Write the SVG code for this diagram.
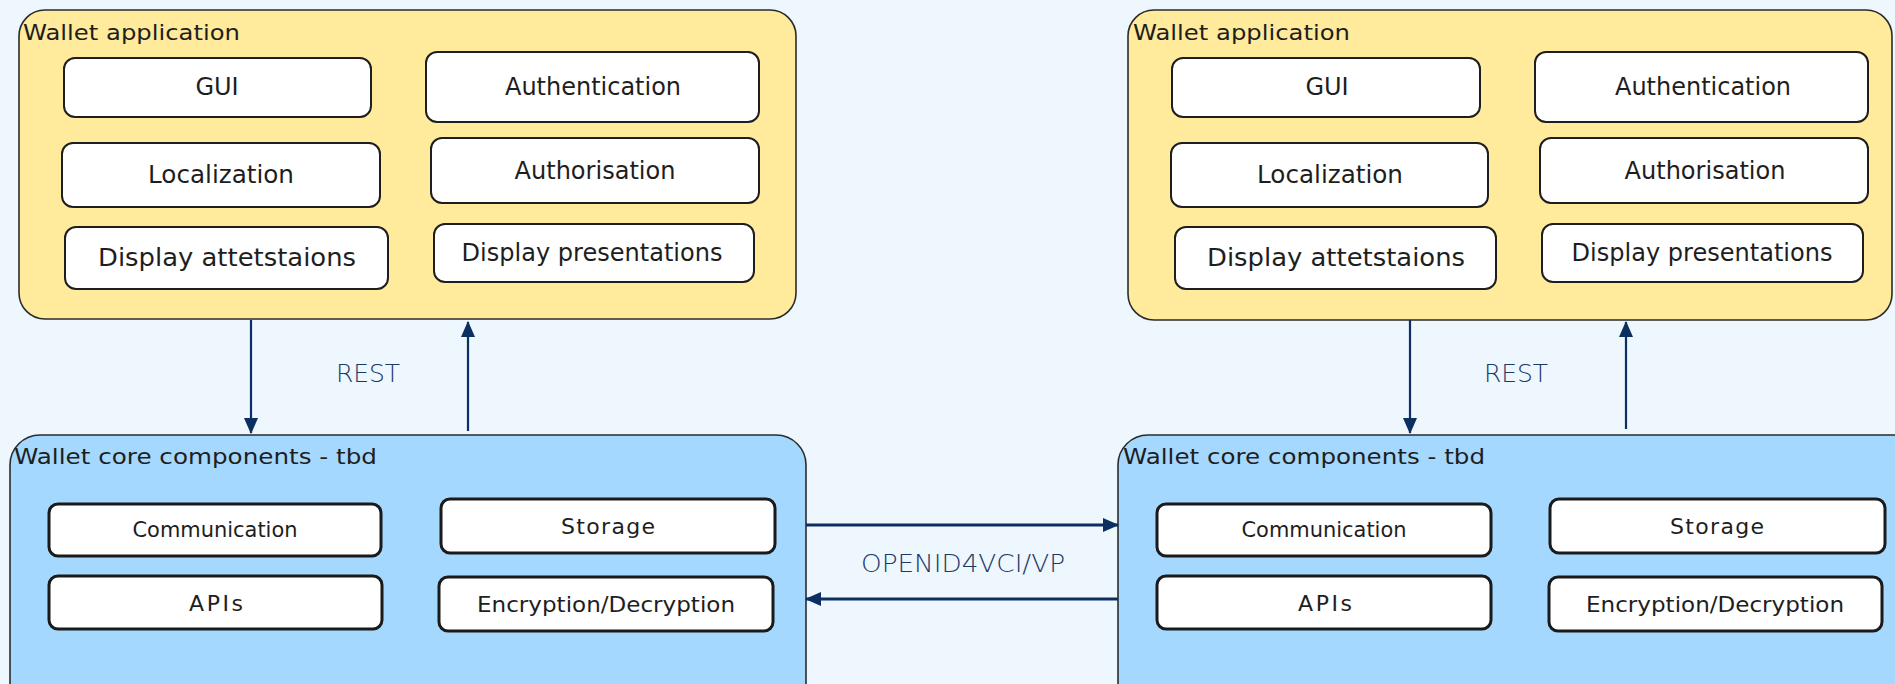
<svg xmlns="http://www.w3.org/2000/svg" width="1895" height="684" viewBox="0 0 1895 684">
  <style>
    .bg { fill: #eef6fe; }
    .app { fill: #ffeb9b; stroke: #2b2b2b; stroke-width: 1.6; }
    .core { fill: #a5d8ff; stroke: #2b2b2b; stroke-width: 1.6; }
    .item { fill: #ffffff; stroke: #1e1e1e; stroke-width: 2; }
    .item-b { fill: #ffffff; stroke: #1a1a1a; stroke-width: 3; }
    .title { font-family: "DejaVu Sans", "Liberation Sans", sans-serif; font-size: 22px; fill: #1e1e1e; }
    .lbl { font-family: "DejaVu Sans", "Liberation Sans", sans-serif; font-size: 24px; fill: #1e1e1e; text-anchor: middle; }
    .lbl-s { font-family: "DejaVu Sans", "Liberation Sans", sans-serif; font-size: 22px; fill: #1e1e1e; text-anchor: middle; }
    .edge { stroke: #0b2f60; fill: none; }
    .v { stroke-width: 2.2; }
    .h { stroke-width: 3; }
    .elbl { font-family: "DejaVu Sans", "Liberation Sans", sans-serif; font-weight: 300; fill: #1b3a66; text-anchor: middle; }
  </style>
  <defs>
    <marker id="head" markerUnits="userSpaceOnUse" markerWidth="16" markerHeight="16" viewBox="0 0 16 16" refX="15" refY="8" orient="auto">
      <path d="M0,1 L16,8 L0,15 Z" fill="#0b2f60"/>
    </marker>
  </defs>

  <rect class="bg" x="0" y="0" width="1895" height="684"/>

  <!-- Left wallet: application layer -->
  <g id="app-left">
    <rect class="app" x="19" y="10" width="777" height="309" rx="26"/>
    <text class="title" x="23" y="40" textLength="217" lengthAdjust="spacingAndGlyphs">Wallet application</text>
    <rect class="item" x="64" y="58" width="307" height="59" rx="11"/>
    <text class="lbl" x="217" y="95">GUI</text>
    <rect class="item" x="426" y="52" width="333" height="70" rx="11"/>
    <text class="lbl" x="593" y="95" textLength="176" lengthAdjust="spacingAndGlyphs">Authentication</text>
    <rect class="item" x="62" y="143" width="318" height="64" rx="11"/>
    <text class="lbl" x="221" y="183" textLength="146" lengthAdjust="spacingAndGlyphs">Localization</text>
    <rect class="item" x="431" y="138" width="328" height="65" rx="11"/>
    <text class="lbl" x="595" y="179" textLength="161" lengthAdjust="spacingAndGlyphs">Authorisation</text>
    <rect class="item" x="65" y="227" width="323" height="62" rx="11"/>
    <text class="lbl" x="227" y="266" textLength="258" lengthAdjust="spacingAndGlyphs">Display attetstaions</text>
    <rect class="item" x="434" y="224" width="320" height="58" rx="11"/>
    <text class="lbl" x="592" y="261" textLength="261" lengthAdjust="spacingAndGlyphs">Display presentations</text>
  </g>

  <!-- Left wallet: core components -->
  <g id="core-left">
    <rect class="core" x="10" y="435" width="796" height="280" rx="30"/>
    <text class="title" x="14" y="464" textLength="363" lengthAdjust="spacingAndGlyphs">Wallet core components - tbd</text>
    <rect class="item-b" x="49" y="504" width="332" height="52" rx="9"/>
    <text class="lbl-s" x="215" y="537" textLength="165" lengthAdjust="spacingAndGlyphs">Communication</text>
    <rect class="item-b" x="441" y="499" width="334" height="54" rx="9"/>
    <text class="lbl-s" x="608" y="534" textLength="94">Storage</text>
    <rect class="item-b" x="49" y="576" width="333" height="53" rx="9"/>
    <text class="lbl-s" x="216" y="611" textLength="54">APIs</text>
    <rect class="item-b" x="439" y="577" width="334" height="54" rx="9"/>
    <text class="lbl-s" x="606" y="612" textLength="258" lengthAdjust="spacingAndGlyphs">Encryption/Decryption</text>
  </g>

  <!-- Right wallet: application layer -->
  <g id="app-right">
    <rect class="app" x="1128" y="10" width="764" height="310" rx="26"/>
    <text class="title" x="1133" y="40" textLength="217" lengthAdjust="spacingAndGlyphs">Wallet application</text>
    <rect class="item" x="1172" y="58" width="308" height="59" rx="11"/>
    <text class="lbl" x="1327" y="95">GUI</text>
    <rect class="item" x="1535" y="52" width="333" height="70" rx="11"/>
    <text class="lbl" x="1703" y="95" textLength="176" lengthAdjust="spacingAndGlyphs">Authentication</text>
    <rect class="item" x="1171" y="143" width="317" height="64" rx="11"/>
    <text class="lbl" x="1330" y="183" textLength="146" lengthAdjust="spacingAndGlyphs">Localization</text>
    <rect class="item" x="1540" y="138" width="328" height="65" rx="11"/>
    <text class="lbl" x="1705" y="179" textLength="161" lengthAdjust="spacingAndGlyphs">Authorisation</text>
    <rect class="item" x="1175" y="227" width="321" height="62" rx="11"/>
    <text class="lbl" x="1336" y="266" textLength="258" lengthAdjust="spacingAndGlyphs">Display attetstaions</text>
    <rect class="item" x="1542" y="224" width="321" height="58" rx="11"/>
    <text class="lbl" x="1702" y="261" textLength="261" lengthAdjust="spacingAndGlyphs">Display presentations</text>
  </g>

  <!-- Right wallet: core components -->
  <g id="core-right">
    <rect class="core" x="1118" y="435" width="820" height="280" rx="30"/>
    <text class="title" x="1123" y="464" textLength="362" lengthAdjust="spacingAndGlyphs">Wallet core components - tbd</text>
    <rect class="item-b" x="1157" y="504" width="334" height="52" rx="9"/>
    <text class="lbl-s" x="1324" y="537" textLength="165" lengthAdjust="spacingAndGlyphs">Communication</text>
    <rect class="item-b" x="1550" y="499" width="335" height="54" rx="9"/>
    <text class="lbl-s" x="1717" y="534" textLength="94">Storage</text>
    <rect class="item-b" x="1157" y="576" width="334" height="53" rx="9"/>
    <text class="lbl-s" x="1325" y="611" textLength="54">APIs</text>
    <rect class="item-b" x="1549" y="577" width="333" height="54" rx="9"/>
    <text class="lbl-s" x="1715" y="612" textLength="258" lengthAdjust="spacingAndGlyphs">Encryption/Decryption</text>
  </g>

  <!-- Connectors -->
  <g id="connectors">
    <line class="edge v" x1="251" y1="320" x2="251" y2="433" marker-end="url(#head)"/>
    <line class="edge v" x1="468" y1="431" x2="468" y2="322" marker-end="url(#head)"/>
    <text class="elbl" x="368" y="382" font-size="25" textLength="64">REST</text>

    <line class="edge v" x1="1410" y1="320" x2="1410" y2="433" marker-end="url(#head)"/>
    <line class="edge v" x1="1626" y1="429" x2="1626" y2="322" marker-end="url(#head)"/>
    <text class="elbl" x="1516" y="382" font-size="25" textLength="64">REST</text>

    <line class="edge h" x1="806" y1="525" x2="1118" y2="525" marker-end="url(#head)"/>
    <line class="edge h" x1="1118" y1="599" x2="806" y2="599" marker-end="url(#head)"/>
    <text class="elbl" x="963" y="572" font-size="24" textLength="204" lengthAdjust="spacingAndGlyphs">OPENID4VCI/VP</text>
  </g>
</svg>
